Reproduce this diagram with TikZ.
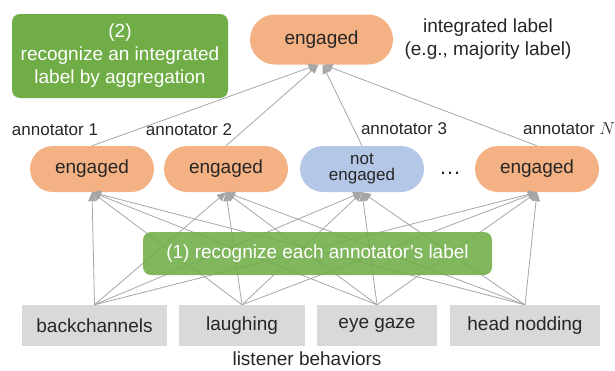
\documentclass[tikz,border=0pt]{standalone}
\usepackage{fontspec}
\setmainfont{Liberation Sans}
\usetikzlibrary{arrows.meta}

\definecolor{stepgreen}{HTML}{70AD47}
\definecolor{labelorange}{HTML}{F4B183}
\definecolor{labelblue}{HTML}{B4C7E7}
\definecolor{behavgray}{HTML}{D9D9D9}
\definecolor{linkgray}{HTML}{A6A6A6}
\definecolor{inkdark}{HTML}{262626}

\begin{document}
\begin{tikzpicture}[x=1pt, y=-1pt,
  every node/.style={font=\fontsize{19}{23}\selectfont, text=inkdark},
  pill/.style={rounded corners=23pt, minimum width=124pt, minimum height=46pt,
               inner sep=0pt, align=center},
  orangepill/.style={pill, fill=labelorange},
  bluepill/.style={pill, fill=labelblue},
  behav/.style={fill=behavgray, minimum height=41pt, inner sep=0pt},
  stepbox/.style={fill=stepgreen, rounded corners=8pt, text=white,
                  align=center, inner sep=0pt},
  annot/.style={font=\fontsize{17}{20}\selectfont},
  link/.style={draw=linkgray, line width=0.8pt,
               -{Triangle[length=9pt, width=8pt]}},
]
\useasboundingbox (0,0) rectangle (615,370);

% integrated label at the top
\node[orangepill, rounded corners=25pt, minimum width=143pt, minimum height=50pt]
  (top) at (321.5,39.5) {engaged};
\node[align=center] (intlabel) at (488,39.5)
  {integrated label\\(e.g., majority label)};

% step (2)
\node[stepbox, minimum width=216pt, minimum height=84pt] (step2) at (120,56)
  {(2)\\recognize an integrated\\label by aggregation};

% annotator labels
\node[orangepill] (a1) at (92,169) {engaged};
\node[orangepill] (a2) at (226,169) {engaged};
\node[bluepill, font=\fontsize{17}{16}\selectfont] (a3) at (362,169) {not\\engaged};
\node[orangepill] (aN) at (537,169) {engaged};
\node[anchor=base, font=\fontsize{22}{22}\selectfont] (dots) at (450,174) {…};

\node[annot] (n1) at (55,130) {annotator 1};
\node[annot] (n2) at (189,130) {annotator 2};
\node[annot] (n3) at (404,129) {annotator 3};
\node[annot] (nN) at (569,129) {annotator $N$};

% listener behaviors
\node[behav, minimum width=145pt] (b1) at (94.5,325.5) {backchannels};
\node[behav, minimum width=126pt] (b2) at (242,325.5) {laughing};
\node[behav, minimum width=120pt] (b3) at (377,325.5) {eye gaze};
\node[behav, minimum width=150pt] (b4) at (525,325.5) {head nodding};
\node (behaviors) at (307,359) {listener behaviors};

% behaviors -> each annotator
\foreach \b in {b1,b2,b3,b4}
  \foreach \a in {a1,a2,a3,aN}
    \draw[link] (\b.north) -- (\a.south);

% annotators -> integrated label
\draw[link] (a1.north) -- ([xshift=-4pt]top.south);
\draw[link] (a2.north) -- ([xshift=-3pt]top.south);
\draw[link] (a3.north) -- ([xshift=1pt]top.south);
\draw[link] (aN.north) -- ([xshift=2pt]top.south);

% step (1), laid over the links
\node[stepbox, fill opacity=0.88, text opacity=1,
      minimum width=349pt, minimum height=43pt] (step1) at (317.5,253.5)
  {(1) recognize each annotator’s label};
\end{tikzpicture}
\end{document}
